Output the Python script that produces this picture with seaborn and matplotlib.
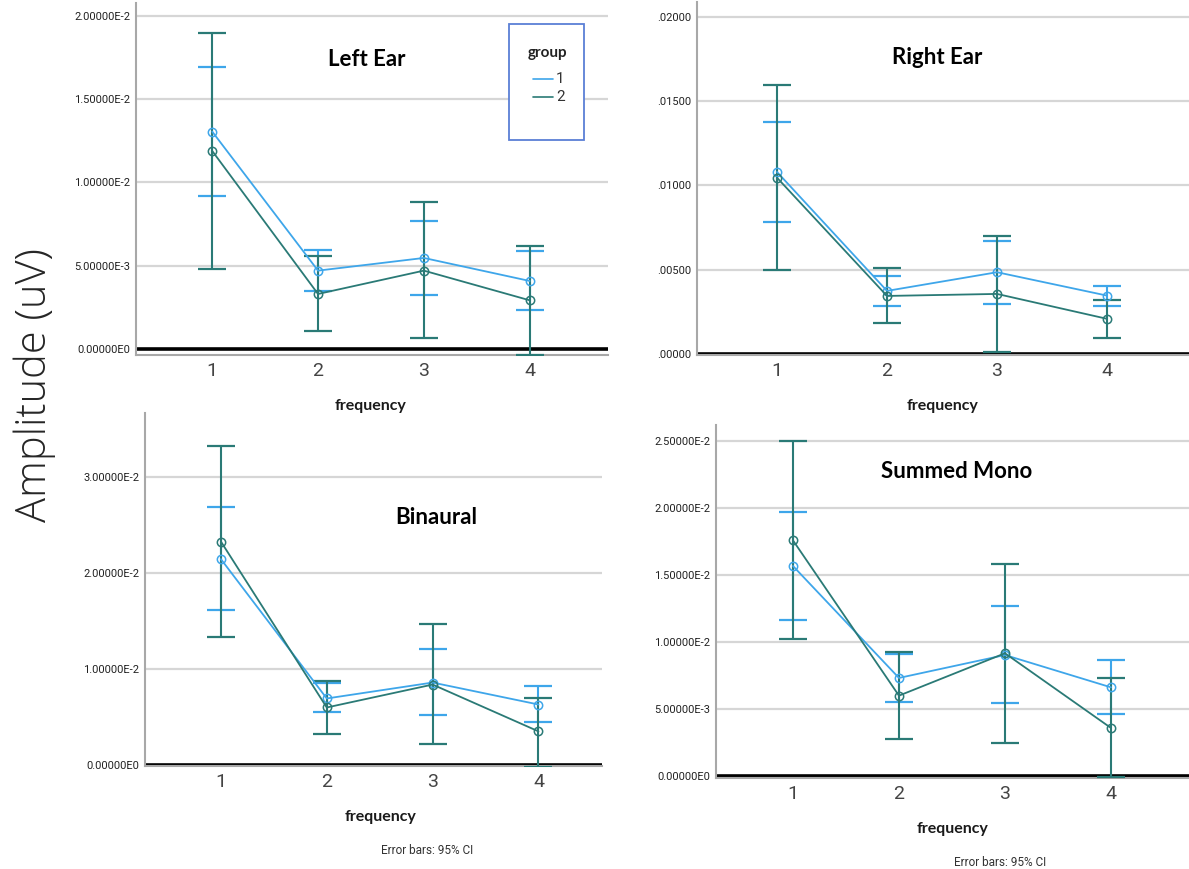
import numpy as np
import pandas as pd
import matplotlib
matplotlib.use("Agg")
import matplotlib.pyplot as plt
import seaborn as sns
from matplotlib.patches import Rectangle
from matplotlib.lines import Line2D

W, H = 1189, 869

freq = [1, 2, 3, 4]
group_names = ["1", "2"]
group_colors = ["#3ea6ea", "#2a7a76"]

# Left Ear (mean, lower CI, upper CI)
left_g1_mean = [0.01304, 0.00470, 0.00546, 0.00408]
left_g1_lo = [0.00918, 0.00348, 0.00326, 0.00232]
left_g1_hi = [0.01690, 0.00594, 0.00768, 0.00590]
left_g2_mean = [0.01188, 0.00330, 0.00470, 0.00292]
left_g2_lo = [0.00478, 0.00106, 0.00068, -0.00034]
left_g2_hi = [0.01898, 0.00558, 0.00882, 0.00620]

# Right Ear
right_g1_mean = [0.01080, 0.00373, 0.00484, 0.00345]
right_g1_lo = [0.00780, 0.00284, 0.00298, 0.00282]
right_g1_hi = [0.01374, 0.00464, 0.00671, 0.00405]
right_g2_mean = [0.01046, 0.00343, 0.00355, 0.00207]
right_g2_lo = [0.00500, 0.00184, 0.00010, 0.00095]
right_g2_hi = [0.01595, 0.00507, 0.00697, 0.00320]

# Binaural
bin_g1_mean = [0.02142, 0.00689, 0.00855, 0.00626]
bin_g1_lo = [0.01609, 0.00543, 0.00516, 0.00439]
bin_g1_hi = [0.02682, 0.00848, 0.01200, 0.00820]
bin_g2_mean = [0.02325, 0.00595, 0.00834, 0.00346]
bin_g2_lo = [0.01332, 0.00322, 0.00211, -0.00030]
bin_g2_hi = [0.03318, 0.00869, 0.01467, 0.00699]

# Summed Mono
sum_g1_mean = [0.01566, 0.00731, 0.00902, 0.00661]
sum_g1_lo = [0.01166, 0.00552, 0.00542, 0.00460]
sum_g1_hi = [0.01966, 0.00910, 0.01265, 0.00865]
sum_g2_mean = [0.01757, 0.00599, 0.00915, 0.00358]
sum_g2_lo = [0.01019, 0.00273, 0.00249, -0.00010]
sum_g2_hi = [0.02495, 0.00924, 0.01583, 0.00733]

titles = ["Left Ear", "Right Ear", "Binaural", "Summed Mono"]
footnote = "Error bars: 95% CI"


def sci_fmt(v, pos=None):
    mant, exp = f"{v:.5E}".split("E")
    return f"{mant}E{int(exp)}"


def dec_fmt(v, pos=None):
    s = f"{v:.5f}"
    return s[1:] if s.startswith("0") else s


def rect(l, t, r, b):
    return [l / W, 1 - b / H, (r - l) / W, (b - t) / H]


def fx(x):
    return x / W


def fy(y):
    return 1 - y / H


sns.set_style("white")
plt.rcParams["font.family"] = ["Roboto", "DejaVu Sans"]
bold_font = ["Lato", "DejaVu Sans"]

fig = plt.figure(figsize=(W / 100, H / 100), dpi=100)

panels = [
    dict(data=[(left_g1_mean, left_g1_lo, left_g1_hi), (left_g2_mean, left_g2_lo, left_g2_hi)],
         box=(136, 3, 608, 355), ylim=(-0.00036, 0.02075), xlim=(0.28, 4.74),
         yticks=[0, 0.005, 0.01, 0.015, 0.02], fmt=sci_fmt,
         title_xy=(367, 60), xlab_xy=(371, 406), note_xy=None),
    dict(data=[(right_g1_mean, right_g1_lo, right_g1_hi), (right_g2_mean, right_g2_lo, right_g2_hi)],
         box=(697, 2, 1189, 355), ylim=(-0.00008, 0.0209), xlim=(0.273, 4.745),
         yticks=[0, 0.005, 0.01, 0.015, 0.02], fmt=dec_fmt,
         title_xy=(937, 57), xlab_xy=(943, 406), note_xy=None),
    dict(data=[(bin_g1_mean, bin_g1_lo, bin_g1_hi), (bin_g2_mean, bin_g2_lo, bin_g2_hi)],
         box=(145, 413, 602, 766), ylim=(-0.00015, 0.03665), xlim=(0.283, 4.6),
         yticks=[0, 0.01, 0.02, 0.03], fmt=sci_fmt,
         title_xy=(436, 517), xlab_xy=(381, 817), note_xy=(427, 850)),
    dict(data=[(sum_g1_mean, sum_g1_lo, sum_g1_hi), (sum_g2_mean, sum_g2_lo, sum_g2_hi)],
         box=(716, 425, 1189, 778), ylim=(-0.00015, 0.02617), xlim=(0.274, 4.736),
         yticks=[0, 0.005, 0.01, 0.015, 0.02, 0.025], fmt=sci_fmt,
         title_xy=(957, 472), xlab_xy=(953, 829), note_xy=(1000, 862)),
]

for i, p in enumerate(panels):
    ax = fig.add_axes(rect(*p["box"]))
    ax.set_facecolor("white")
    for t in p["yticks"][1:]:
        ax.axhline(t, color="#d6d6d6", lw=1.6, zorder=0)
    ax.axhline(0, color="black", lw=2.6, zorder=1)

    for (mean, lo, hi), name, c in zip(p["data"], group_names, group_colors):
        df = pd.DataFrame({"frequency": freq, "mean": mean, "lo": lo, "hi": hi})
        ax.errorbar(df["frequency"], df["mean"],
                    yerr=[df["mean"] - df["lo"], df["hi"] - df["mean"]],
                    fmt="none", ecolor=c, elinewidth=1.5, capsize=10, capthick=1.6, zorder=3)
        sns.lineplot(data=df, x="frequency", y="mean", color=c, lw=1.3,
                     marker="o", markersize=6, markerfacecolor="none",
                     markeredgecolor=c, markeredgewidth=1.1, ax=ax, zorder=4)

    ax.set_xlim(*p["xlim"])
    ax.set_ylim(*p["ylim"])
    ax.set_xticks(freq)
    ax.set_xticklabels([str(f) for f in freq], fontsize=14, color="#444444")
    ax.set_yticks(p["yticks"])
    ax.yaxis.set_major_formatter(plt.FuncFormatter(p["fmt"]))
    ax.tick_params(axis="y", length=0, pad=4, labelsize=8, labelcolor="#222222")
    ax.tick_params(axis="x", length=0, pad=5)
    ax.set_xlabel("")
    ax.set_ylabel("")
    for s in ["top", "right"]:
        ax.spines[s].set_visible(False)
    ax.spines["left"].set_color("#a8a8a8")
    ax.spines["left"].set_linewidth(1.5)
    ax.spines["bottom"].set_color("#a8a8a8")
    ax.spines["bottom"].set_linewidth(1.5)

    fig.text(fx(p["title_xy"][0]), fy(p["title_xy"][1]), titles[i], ha="center", va="center",
             fontsize=16, fontweight="bold", color="black", family=bold_font)
    fig.text(fx(p["xlab_xy"][0]), fy(p["xlab_xy"][1]), "frequency", ha="center", va="center",
             fontsize=11.5, fontweight="bold", color="#1a1a1a", family=bold_font)
    if p["note_xy"]:
        fig.text(fx(p["note_xy"][0]), fy(p["note_xy"][1]), footnote, ha="center", va="center",
                 fontsize=8.5, color="#333333")

    if i == 0:
        box = Rectangle((fx(509), fy(140)), fx(584) - fx(509), fy(24) - fy(140),
                        transform=fig.transFigure, facecolor="white",
                        edgecolor="#5b7fd6", lw=1.3, zorder=5)
        fig.add_artist(box)
        fig.text(fx(548), fy(53), "group", ha="center", va="center",
                 fontsize=11, fontweight="bold", color="#222222", family=bold_font, zorder=6)
        for name, c, yy in zip(group_names, group_colors, [79, 97]):
            fig.add_artist(Line2D([fx(533), fx(553)], [fy(yy), fy(yy)], color=c, lw=1.2,
                                  transform=fig.transFigure, zorder=6))
            fig.text(fx(556), fy(yy), name, ha="left", va="center",
                     fontsize=11, color="#333333", zorder=6)

fig.text(fx(35), fy(385), "Amplitude (uV)", rotation=90, ha="center", va="center",
         fontsize=30, family=["Open Sans", "DejaVu Sans"], fontweight="light")

fig.savefig("out.png", dpi=100, facecolor="white")
